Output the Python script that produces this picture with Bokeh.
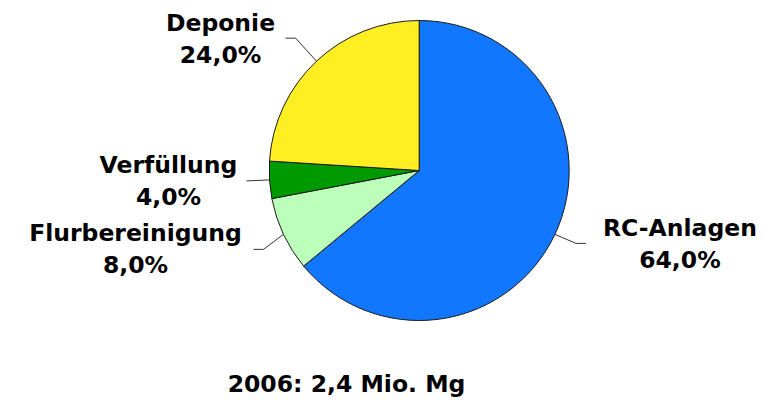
import math
from bokeh.plotting import figure
from bokeh.models import Range1d, Label, ColumnDataSource
from bokeh.core.properties import value
from bokeh.embed import file_html
from bokeh.resources import INLINE

# ---- data ----
categories = ["RC-Anlagen", "Flurbereinigung", "Verfüllung", "Deponie"]
shares = [64.0, 8.0, 4.0, 24.0]
title_text = "2006: 2,4 Mio. Mg"

# ---- styles / layout ----
colors = ["#1177FF", "#BBFFBB", "#009900", "#FFEE22"]
FONT = "DejaVu Sans"
FSIZE = "23.5px"
PX = 150.0  # pixels per data unit (pie radius = 1)
W, H = 774, 403
CX, CY = 418.7, 170.0  # pie centre in figure pixels (from top-left)
SHIFT = 9.5  # renderer baseline correction (pixels up)
# label offsets (pixels) from edge point at slice mid-angle: (dx, dy down), first-line baseline
label_off = [(125, 3), (-148, 8), (-101, -5), (-96, -29)]
# leader polyline offsets (pixels) from edge point
leader_off = [
    [(0, 0), (21, 9), (31, 9)],
    [(0, 0), (-20, 15), (-30, 15)],
    [(0, 0), (-23, 1)],
    [(0, 0), (-21, -23), (-31, -23)],
]
LINE_GAP = 32

p = figure(width=W, height=H, output_backend="svg", toolbar_location=None,
           x_range=Range1d(-CX / PX, (W - CX) / PX),
           y_range=Range1d(-(H - CY) / PX, CY / PX),
           min_border=0, background_fill_color="white", border_fill_color="white")
p.axis.visible = False
p.grid.visible = False
p.outline_line_color = None

total = sum(shares)
starts, ends, mids = [], [], []
cum = 0.0
for s in shares:
    a0 = math.pi / 2 - 2 * math.pi * cum / total
    cum += s
    a1 = math.pi / 2 - 2 * math.pi * cum / total
    starts.append(a1)
    ends.append(a0)
    mids.append((a0 + a1) / 2)

src = ColumnDataSource(dict(start=starts, end=ends, color=colors))
p.wedge(x=0, y=0, radius=1, start_angle="start", end_angle="end", fill_color="color",
        line_color="#1a1a1a", line_width=1, source=src)

xs, ys = [], []
for m, offs in zip(mids, leader_off):
    ex, ey = math.cos(m), math.sin(m)
    xs.append([ex + dx / PX for dx, dy in offs])
    ys.append([ey - dy / PX for dx, dy in offs])
p.multi_line(xs, ys, line_color="#333333", line_width=1)

lx, ly1, ly2, names, pcts = [], [], [], [], []
for m, (dx, dy), c, s in zip(mids, label_off, categories, shares):
    ex, ey = math.cos(m), math.sin(m)
    lx.append(ex + dx / PX)
    ly1.append(ey - (dy - SHIFT) / PX)
    ly2.append(ey - (dy + LINE_GAP - SHIFT) / PX)
    names.append(c)
    pcts.append(f"{s:.1f}".replace(".", ",") + "%")

for yy, tt in ((ly1, names), (ly2, pcts)):
    p.text(x=lx, y=yy, text=tt, text_align="center", text_baseline="alphabetic",
           text_font=value(FONT), text_font_style="bold", text_font_size=FSIZE,
           text_color="black")

p.add_layout(Label(x=346, y=H - 393 + SHIFT, x_units="screen", y_units="screen", text=title_text,
                   text_align="center", text_baseline="alphabetic",
                   text_font=FONT, text_font_style="bold", text_font_size=FSIZE,
                   text_color="black"))

open("out.html", "w").write(file_html(p, INLINE))
